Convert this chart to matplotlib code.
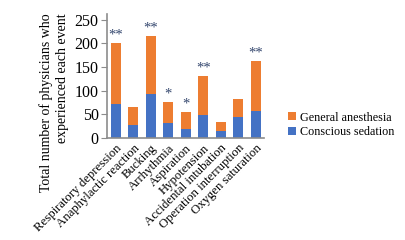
import matplotlib

matplotlib.use("Agg")
import matplotlib.pyplot as plt
import numpy as np

categories = [
    "Respiratory depression",
    "Anaphylactic reaction",
    "Bucking",
    "Arrhythmia",
    "Aspiration",
    "Hypotension",
    "Accidental intubation",
    "Operation interruption",
    "Oxygen saturation",
]
conscious = [72, 28, 93, 31, 20, 49, 15, 45, 58]
general = [128, 37, 122, 45, 34, 82, 18, 37, 104]
stars = ["**", "", "**", "*", "*", "**", "", "", "**"]

BLUE = "#4472C4"
ORANGE = "#ED7D31"
GRAY = "#8c8c8c"

plt.rcParams["font.family"] = ["Liberation Serif", "DejaVu Serif"]

fig = plt.figure(figsize=(4.05, 2.4), dpi=100)
ax = fig.add_axes([0.264, 0.425, 0.388, 0.517])

x = np.arange(len(categories))
ax.bar(x, conscious, width=0.57, color=BLUE, label="Conscious sedation")
ax.bar(x, general, width=0.57, bottom=conscious, color=ORANGE, label="General anesthesia")

# significance marks above each stacked bar
totals = np.array(conscious) + np.array(general)
for xi, t, s in zip(x, totals, stars):
    if s:
        ax.text(xi, t + 3, s, ha="center", va="bottom", fontsize=10.5,
                color="#34476e")

ax.set_xlim(-0.52, 8.48)
ax.set_ylim(0, 262)
ax.set_yticks([0, 50, 100, 150, 200, 250])
ax.set_xticks(x)
ax.set_xticklabels(categories, rotation=45, ha="right", rotation_mode="anchor", fontsize=9.2)
ax.tick_params(axis="x", length=0, pad=3)
ax.tick_params(axis="y", length=4, color=GRAY, labelsize=11.5, pad=2)

for side in ("top", "right"):
    ax.spines[side].set_visible(False)
for side in ("left", "bottom"):
    ax.spines[side].set_color(GRAY)
    ax.spines[side].set_linewidth(1.2)

fig.text(0.133, 0.946, "Total number of physicians who\nexperienced each event",
         rotation=90, va="top", ha="center", multialignment="right",
         fontsize=10, linespacing=1.3)

handles, labels = ax.get_legend_handles_labels()
ax.legend(handles[::-1], labels[::-1], loc="center left", bbox_to_anchor=(0.70, 0.48),
          bbox_transform=fig.transFigure, frameon=False, fontsize=8.7,
          handlelength=0.6, handleheight=0.6, handletextpad=0.4, labelspacing=0.2,
          borderaxespad=0)

fig.savefig("out.png", dpi=100)
